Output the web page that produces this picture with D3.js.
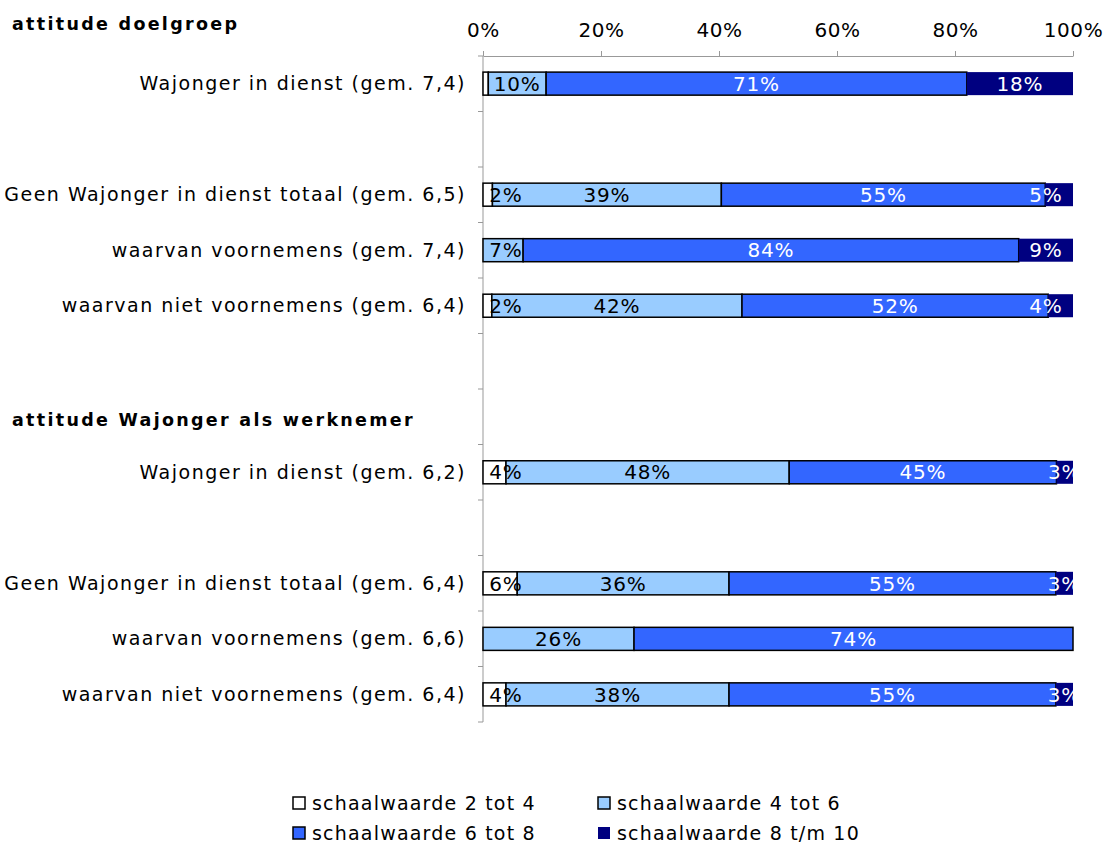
<!DOCTYPE html>
<html>
<head>
<meta charset="utf-8">
<script src="https://cdn.jsdelivr.net/npm/d3@7"></script>
<style>
  body { margin: 0; background: #fff; }
  text { font-family: "DejaVu Sans", Verdana, sans-serif; }
</style>
</head>
<body>
<svg id="chart" width="1104" height="843"></svg>
<script>
// rows of the chart, empty strings are spacer rows
const categories = [
  "Wajonger in dienst (gem. 7,4)", "",
  "Geen Wajonger in dienst totaal (gem. 6,5)",
  "waarvan voornemens (gem. 7,4)",
  "waarvan niet voornemens (gem. 6,4)", "", "",
  "Wajonger in dienst (gem. 6,2)", "",
  "Geen Wajonger in dienst totaal (gem. 6,4)",
  "waarvan voornemens (gem. 6,6)",
  "waarvan niet voornemens (gem. 6,4)"
]
const seriesNames = ["schaalwaarde 2 tot 4", "schaalwaarde 4 tot 6", "schaalwaarde 6 tot 8", "schaalwaarde 8 t/m 10"]
// shares in %, per series, one per row (null = no bar)
const s2tot4  = [0.9, null, 1.6, 0,    1.5, null, null, 3.9,  null, 5.8,  0,    3.9]
const s4tot6  = [9.8, null, 38.8, 6.8, 42.4, null, null, 48.0, null, 35.9, 25.6, 37.8]
const s6tot8  = [71.3, null, 54.9, 84.0, 51.9, null, null, 45.3, null, 55.4, 74.4, 55.4]
const s8tot10 = [18.0, null, 4.7, 9.2,  4.2, null, null, 2.8,  null, 2.9,  0,    2.9]
const tickValues = [0, 20, 40, 60, 80, 100]
const groupTitles = [{ row: 0, text: "attitude doelgroep" }, { row: 6, text: "attitude Wajonger als werknemer" }]

const colors = ["#FFFFFF", "#99CCFF", "#3366FF", "#000080"]
const labelColors = ["#000", "#000", "#fff", "#fff"]

const margin = { top: 56, left: 483 }
const width = 590
const height = 666

const svg = d3.select("#chart")
svg.append("defs").append("clipPath").attr("id", "plotclip")
  .append("rect").attr("x", 0).attr("y", 0).attr("width", width).attr("height", height)

const g = svg.append("g").attr("transform", `translate(${margin.left}, ${margin.top})`)

const x = d3.scaleLinear().domain([0, 100]).range([0, width])
const y = d3.scaleBand().domain(d3.range(categories.length)).range([0, height]).paddingInner(0.585).paddingOuter(0.29)
const step = height / categories.length

// top axis
const xAxis = g.append("g")
  .call(d3.axisTop(x).tickValues(tickValues).tickFormat(d => d + "%").tickSize(5).tickSizeOuter(0))
xAxis.select(".domain").attr("stroke", "#999")
xAxis.selectAll(".tick line").attr("stroke", "#999")
xAxis.selectAll(".tick text").attr("font-size", 20).attr("fill", "#000").attr("y", -19).attr("dy", "0")
  .attr("font-family", "DejaVu Sans, Verdana, sans-serif").attr("letter-spacing", "0.6px")

// left axis with ticks at row boundaries
g.append("line").attr("x1", 0).attr("x2", 0).attr("y1", 0).attr("y2", height).attr("stroke", "#999")
g.selectAll(".ytick").data(d3.range(categories.length + 1)).join("line")
  .attr("x1", -5).attr("x2", 0)
  .attr("y1", d => d * step).attr("y2", d => d * step)
  .attr("stroke", "#999")

g.selectAll(".ylabel").data(categories).join("text")
  .attr("x", -17)
  .attr("y", (d, i) => i * step + step / 2)
  .attr("dy", "0.35em")
  .attr("text-anchor", "end")
  .attr("font-size", 19)
  .attr("letter-spacing", "1.5px")
  .text(d => d)

svg.selectAll(".title").data(groupTitles).join("text")
  .attr("x", 12)
  .attr("y", d => d.row === 0 ? 30 : margin.top + d.row * step + step / 2 + 9)
  .attr("font-size", 17.5)
  .attr("font-weight", "bold")
  .attr("letter-spacing", "2.3px")
  .text(d => d.text)

// stacked bars
const all = [s2tot4, s4tot6, s6tot8, s8tot10]
const stacked = all.map((vals, si) => vals.map((v, i) => {
  if (v === null) return null
  const start = d3.sum(all.slice(0, si), s => s[i])
  return { row: i, start, v }
}).filter(d => d && d.v > 0))

stacked.forEach((segs, si) => {
  g.selectAll(".bar" + si).data(segs).join("rect")
    .attr("x", d => x(d.start))
    .attr("y", d => y(d.row))
    .attr("width", d => x(d.start + d.v) - x(d.start))
    .attr("height", y.bandwidth())
    .attr("fill", colors[si])
    .attr("stroke", si < 3 ? "#000" : "none")
    .attr("stroke-width", 1.5)
})

// labels on top of all bars, clipped to the plot area
const labelLayer = g.append("g").attr("clip-path", "url(#plotclip)")
const labelX = d => {
  let cx = Math.max(x(d.start + d.v / 2), 23)
  if (d.v >= 4) cx = Math.min(cx, width - 27)
  return cx
}
stacked.forEach((segs, si) => {
  labelLayer.selectAll(".lab" + si).data(segs.filter(d => d.v >= 1.5)).join("text")
    .attr("x", labelX)
    .attr("y", d => y(d.row) + y.bandwidth() / 2)
    .attr("dy", "0.36em")
    .attr("text-anchor", "middle")
    .attr("font-size", 20)
    .attr("letter-spacing", "0.8px")
    .attr("fill", labelColors[si])
    .text(d => Math.round(d.v) + "%")
})

// legend
const legend = svg.append("g")
const legPos = [[293, 803], [598, 803], [293, 833], [598, 833]]
seriesNames.forEach((name, i) => {
  const [lx, ly] = legPos[i]
  legend.append("rect").attr("x", lx).attr("y", ly - 6).attr("width", 12).attr("height", 12)
    .attr("fill", colors[i]).attr("stroke", i < 3 ? "#000" : "none").attr("stroke-width", 1.5)
  legend.append("text").attr("x", lx + 19).attr("y", ly).attr("dy", "0.35em")
    .attr("font-size", 19).attr("letter-spacing", "1.2px").text(name)
})
</script>
</body>
</html>
